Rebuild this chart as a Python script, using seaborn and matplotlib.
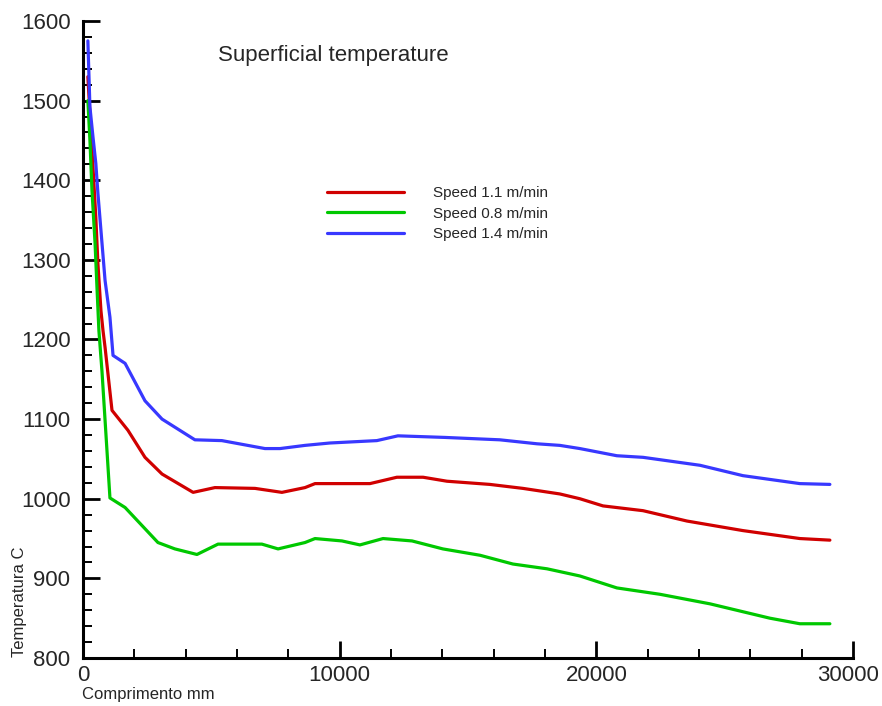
import matplotlib
matplotlib.use("Agg")
import matplotlib.pyplot as plt
from matplotlib.ticker import MultipleLocator
import seaborn as sns
import pandas as pd

# series (x in mm, temperature in C)
x_11 = [190, 500, 580, 700, 780, 860, 1130, 1750, 2415, 3080, 4290, 5140, 6700, 7750, 8650, 9040,
        11180, 12230, 13250, 14180, 15850, 17140, 18580, 19360, 20260, 21820, 23530, 25710, 27930, 29100]
t_11 = [1530, 1353, 1296, 1236, 1211, 1190, 1111, 1086, 1052, 1031, 1008, 1014, 1013, 1008, 1014, 1019,
        1019, 1027, 1027, 1022, 1018, 1013, 1006, 1000, 991, 985, 972, 960, 950, 948]

x_08 = [190, 270, 350, 470, 545, 620, 740, 1050, 1640, 2920, 3580, 4440, 5260, 6970, 7600, 8650, 9040,
        10090, 10790, 11690, 12820, 14020, 15470, 16750, 18080, 19360, 20800, 22480, 24430, 26760, 27930, 29100]
t_08 = [1500, 1450, 1387, 1321, 1265, 1211, 1160, 1001, 989, 945, 937, 930, 943, 943, 937, 945, 950,
        947, 942, 950, 947, 937, 929, 918, 912, 903, 888, 880, 868, 850, 843, 843]

x_14 = [190, 270, 390, 500, 580, 740, 860, 1050, 1170, 1640, 2415, 3080, 4360, 5410, 7090, 7675, 8650,
        9620, 11450, 12270, 14100, 16240, 17690, 18580, 19360, 20800, 21820, 24040, 25710, 27930, 29100]
t_14 = [1575, 1492, 1454, 1421, 1384, 1321, 1274, 1228, 1180, 1170, 1123, 1100, 1074, 1073, 1063, 1063, 1067,
        1070, 1073, 1079, 1077, 1074, 1069, 1067, 1063, 1054, 1052, 1042, 1029, 1019, 1018]

x_ticks = [0, 10000, 20000, 30000]
x_ticklabels = ["0", "10000", "20000", "30000"]

labels = ["Speed 1.1 m/min", "Speed 0.8 m/min", "Speed 1.4 m/min"]
colors = ["#d00000", "#00c800", "#3838ff"]

frames = []
for lab, xs, ts in zip(labels, [x_11, x_08, x_14], [t_11, t_08, t_14]):
    frames.append(pd.DataFrame({"Comprimento": xs, "Temperatura": ts, "Serie": lab}))
df = pd.concat(frames, ignore_index=True)

sns.set_style("white")
plt.rcParams['font.family'] = ['Liberation Sans', 'DejaVu Sans']

fig = plt.figure(figsize=(8.82, 7.06), dpi=100)
ax = fig.add_axes([0.0941, 0.068, 0.873, 0.9023])

sns.lineplot(data=df, x="Comprimento", y="Temperatura", hue="Serie", hue_order=labels,
             palette=colors, estimator=None, sort=False, linewidth=2.3, ax=ax)

ax.set_xlim(0, 30000)
ax.set_ylim(800, 1600)
# last label is drawn separately so it can hug the right edge
ax.set_xticks(x_ticks, labels=x_ticklabels[:-1] + [""])
ax.xaxis.set_minor_locator(MultipleLocator(2000))
ax.yaxis.set_major_locator(MultipleLocator(100))
ax.yaxis.set_minor_locator(MultipleLocator(20))

for s in ["top", "right"]:
    ax.spines[s].set_visible(False)
for s in ["left", "bottom"]:
    ax.spines[s].set_linewidth(2.2)
    ax.spines[s].set_color("black")

ax.tick_params(which="major", direction="in", length=12, width=2.0, labelsize=16, color="black")
ax.tick_params(which="minor", direction="in", length=6.5, width=1.4, color="black")
ax.tick_params(axis="y", which="both", left=True, pad=9)
ax.tick_params(axis="x", which="both", bottom=True, pad=5)

ax.annotate(x_ticklabels[-1], xy=(x_ticks[-1], 0), xycoords=("data", "axes fraction"),
            xytext=(19, -5), textcoords="offset points", ha="right", va="top", fontsize=16)

ax.set_xlabel("")
ax.set_ylabel("")
fig.text(0.093, 0.006, "Comprimento mm", fontsize=12, ha="left", va="bottom")
fig.text(0.022, 0.07, "Temperatura C", fontsize=12, rotation=90, ha="center", va="bottom")

fig.text(0.247, 0.921, "Superficial temperature", fontsize=16, ha="left", va="center")

handles, labs = ax.get_legend_handles_labels()
ax.legend(handles, labs, loc="upper left", bbox_to_anchor=(0.3555, 0.7555),
          bbox_transform=fig.transFigure, frameon=False, fontsize=11,
          handlelength=5.0, handletextpad=1.9, labelspacing=0.42)

fig.savefig("out.png", dpi=100)
